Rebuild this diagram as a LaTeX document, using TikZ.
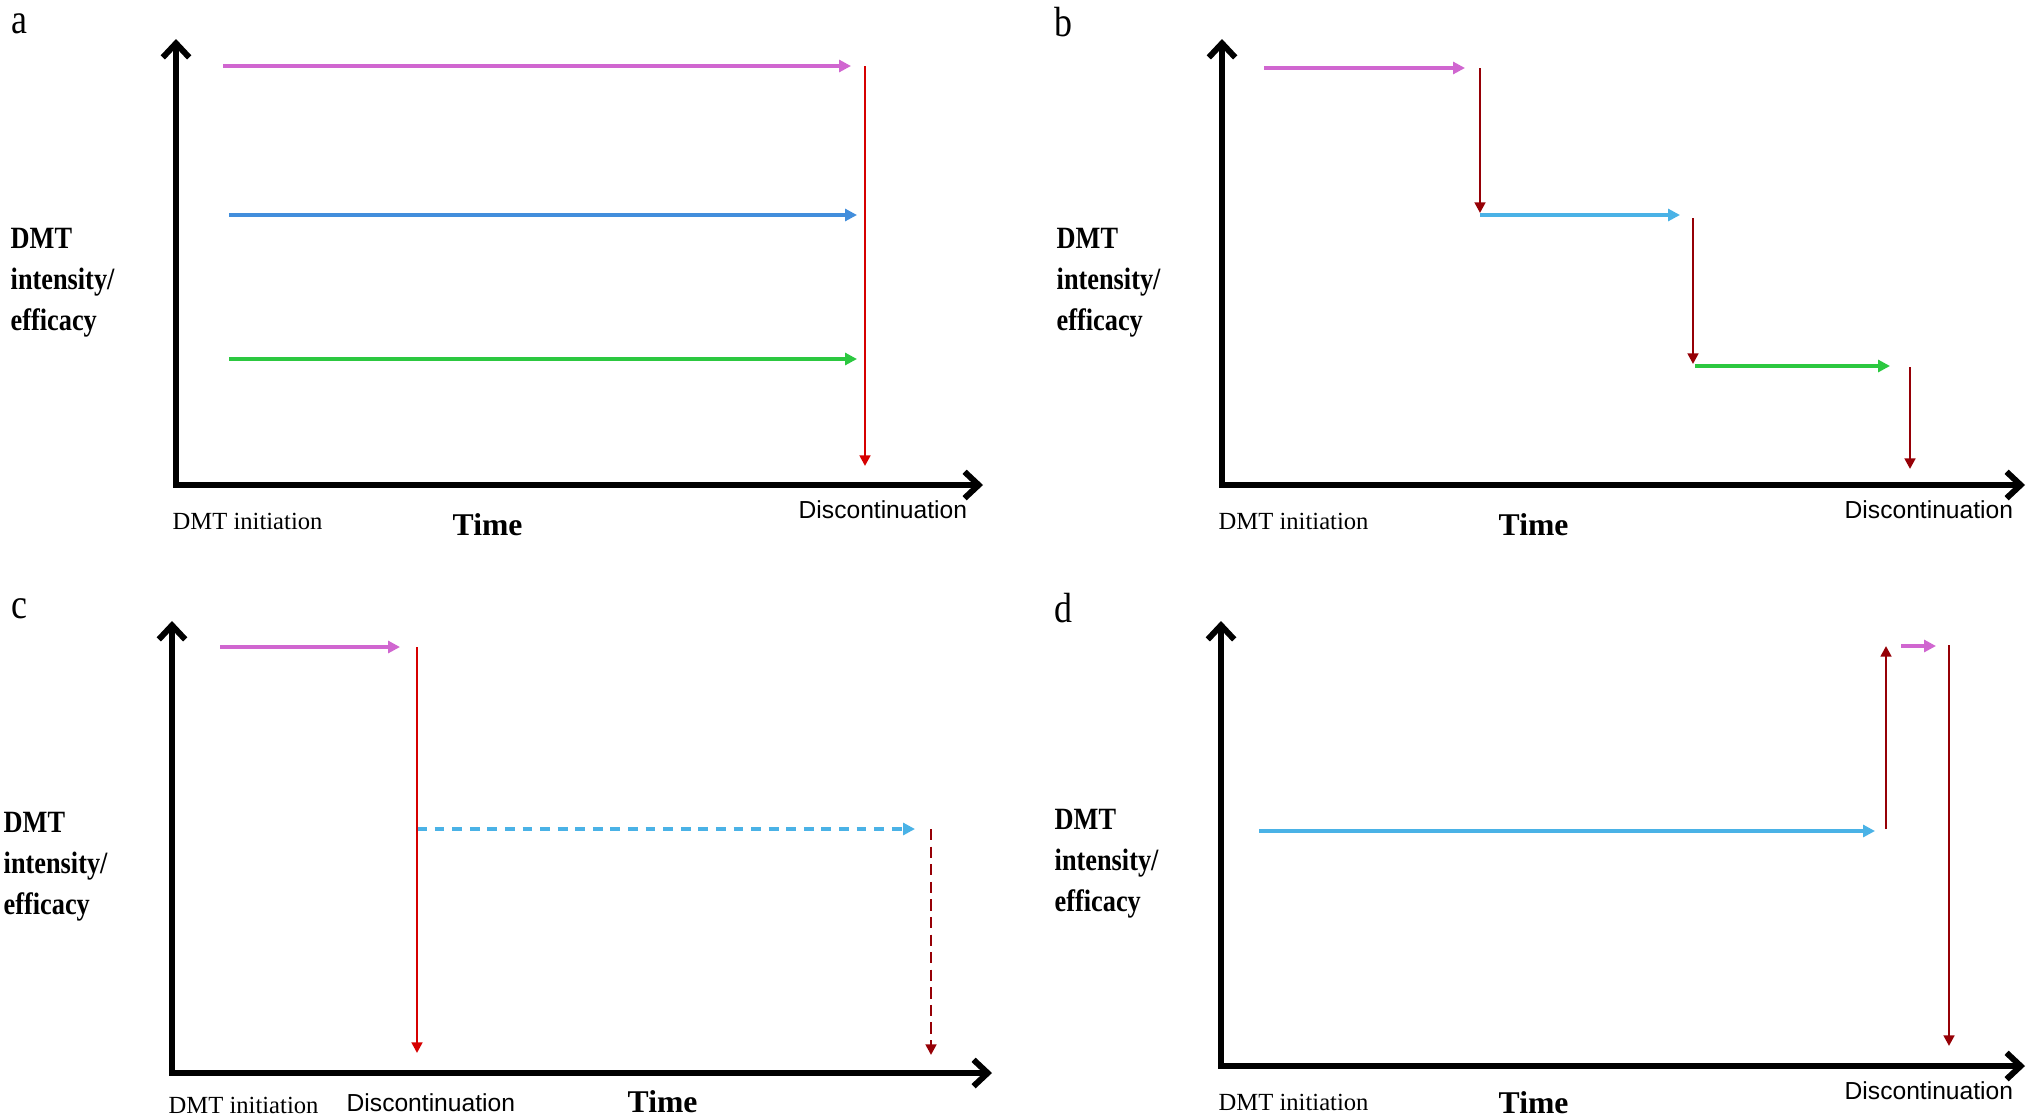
\documentclass[tikz,border=0pt]{standalone}
\usepackage{fontspec}
\setmainfont{Liberation Serif}
\newfontfamily\narrowserif[FakeStretch=0.85]{Liberation Serif}
\newfontfamily\discfont{Liberation Sans}
\usetikzlibrary{arrows.meta,positioning}

\definecolor{dmtmagenta}{RGB}{208,102,208}
\definecolor{dmtblue}{RGB}{66,142,220}
\definecolor{dmtsky}{RGB}{74,178,230}
\definecolor{dmtgreen}{RGB}{44,200,64}
\definecolor{dmtred}{RGB}{214,0,0}
\definecolor{dmtdark}{RGB}{150,0,6}

\tikzset{
  timeaxis/.style={line width=1.7pt,
    {Straight Barb[length=4pt,width=7.5pt]}-{Straight Barb[length=4pt,width=7.5pt]}},
  drug/.style={line width=0.95pt, -{Triangle[length=3.4pt,width=3.4pt]}},
  halt/.style={line width=0.75pt, -{Triangle[length=3pt,width=3pt]}},
  panel/.style={font=\narrowserif\fontsize{12}{14}\selectfont, inner sep=0pt},
  ylab/.style={font=\narrowserif\bfseries\fontsize{8.8}{11.7}\selectfont,
    align=left, anchor=west, inner sep=0pt},
  initlab/.style={font=\fontsize{7}{8}\selectfont, anchor=west, inner sep=0pt},
  timelab/.style={font=\bfseries\fontsize{9}{10}\selectfont, anchor=west, inner sep=0pt},
  endlab/.style={font=\discfont\fontsize{7}{8}\selectfont, anchor=west, inner sep=0pt},
}

\begin{document}
\begin{tikzpicture}[x=0.01cm, y=-0.01cm]
\useasboundingbox (0,0) rectangle (2030,1118);

% panel a
\coordinate (aO) at (176,485);
\coordinate (aY) at (176,39);
\coordinate (aX) at (983,485);
\coordinate (a1) at (223,66);
\coordinate (a2) at (851,66);
\coordinate (a3) at (865,66);
\coordinate (a4) at (865,466);
\coordinate (a5) at (229,215);
\coordinate (a6) at (857,215);
\coordinate (a7) at (229,359);
\coordinate (a8) at (857,359);

\draw[timeaxis] (aY) -- (aO) -- (aX);
\draw[drug,dmtmagenta] (a1) -- (a2);
\draw[drug,dmtblue] (a5) -- (a6);
\draw[drug,dmtgreen] (a7) -- (a8);
\draw[halt,dmtred] (a3) -- (a4);

\node[panel] (alab) at (19,24) {a};
\node[ylab] (aylab) at (10,283) {DMT\\intensity/\\efficacy};
\node[initlab] (ainit) at (172,521) {DMT initiation};
\node[timelab] (atime) at (452,525) {Time};
\node[endlab] (adisc) at (798,510) {Discontinuation};

% panel b
\coordinate (bO) at (1222,485);
\coordinate (bY) at (1222,39);
\coordinate (bX) at (2025,485);
\coordinate (b1) at (1264,68);
\coordinate (b2) at (1465,68);
\coordinate (b3) at (1480,68);
\coordinate (b4) at (1480,213);
\coordinate (b5) at (1480,215);
\coordinate (b6) at (1680,215);
\coordinate (b7) at (1693,218);
\coordinate (b8) at (1693,364);
\coordinate (b9) at (1695,366);
\coordinate (b10) at (1890,366);
\coordinate (b11) at (1910,367);
\coordinate (b12) at (1910,469);

\draw[timeaxis] (bY) -- (bO) -- (bX);
\draw[drug,dmtmagenta] (b1) -- (b2);
\draw[drug,dmtsky] (b5) -- (b6);
\draw[drug,dmtgreen] (b9) -- (b10);
\draw[halt,dmtdark] (b3) -- (b4);
\draw[halt,dmtdark] (b7) -- (b8);
\draw[halt,dmtdark] (b11) -- (b12);

\node[panel] (blab) at (1063,22) {b};
\node[ylab] (bylab) at (1056,283) {DMT\\intensity/\\efficacy};
\node[initlab] (binit) at (1218,521) {DMT initiation};
\node[timelab] (btime) at (1498,525) {Time};
\node[endlab] (bdisc) at (1844,510) {Discontinuation};

% panel c
\coordinate (cO) at (172,1073);
\coordinate (cY) at (172,621);
\coordinate (cX) at (992,1073);
\coordinate (c1) at (220,647);
\coordinate (c2) at (400,647);
\coordinate (c3) at (417,647);
\coordinate (c4) at (417,1053);
\coordinate (c5) at (417,829);
\coordinate (c6) at (915,829);
\coordinate (c7) at (931,829);
\coordinate (c8) at (931,1055);

\draw[timeaxis] (cY) -- (cO) -- (cX);
\draw[drug,dmtmagenta] (c1) -- (c2);
\draw[drug,dmtsky,dash pattern=on 2.8pt off 2.2pt] (c5) -- (c6);
\draw[halt,dmtred] (c3) -- (c4);
\draw[halt,dmtdark,dash pattern=on 3.2pt off 1.8pt] (c7) -- (c8);

\node[panel] (clab) at (19,609) {c};
\node[ylab] (cylab) at (3,867) {DMT\\intensity/\\efficacy};
\node[initlab] (cinit) at (168,1105) {DMT initiation};
\node[endlab] (cdisc) at (346,1103) {Discontinuation};
\node[timelab] (ctime) at (627,1102) {Time};

% panel d
\coordinate (dO) at (1221,1066);
\coordinate (dY) at (1221,621);
\coordinate (dX) at (2025,1066);
\coordinate (d1) at (1259,831);
\coordinate (d2) at (1875,831);
\coordinate (d3) at (1886,829);
\coordinate (d4) at (1886,646);
\coordinate (d5) at (1901,646);
\coordinate (d6) at (1936,646);
\coordinate (d7) at (1949,645);
\coordinate (d8) at (1949,1046);

\draw[timeaxis] (dY) -- (dO) -- (dX);
\draw[drug,dmtsky] (d1) -- (d2);
\draw[halt,dmtdark] (d3) -- (d4);
\draw[drug,dmtmagenta] (d5) -- (d6);
\draw[halt,dmtdark] (d7) -- (d8);

\node[panel] (dlab) at (1063,608) {d};
\node[ylab] (dylab) at (1054,864) {DMT\\intensity/\\efficacy};
\node[initlab] (dinit) at (1218,1102) {DMT initiation};
\node[timelab] (dtime) at (1498,1103) {Time};
\node[endlab] (ddisc) at (1844,1091) {Discontinuation};

\end{tikzpicture}
\end{document}
